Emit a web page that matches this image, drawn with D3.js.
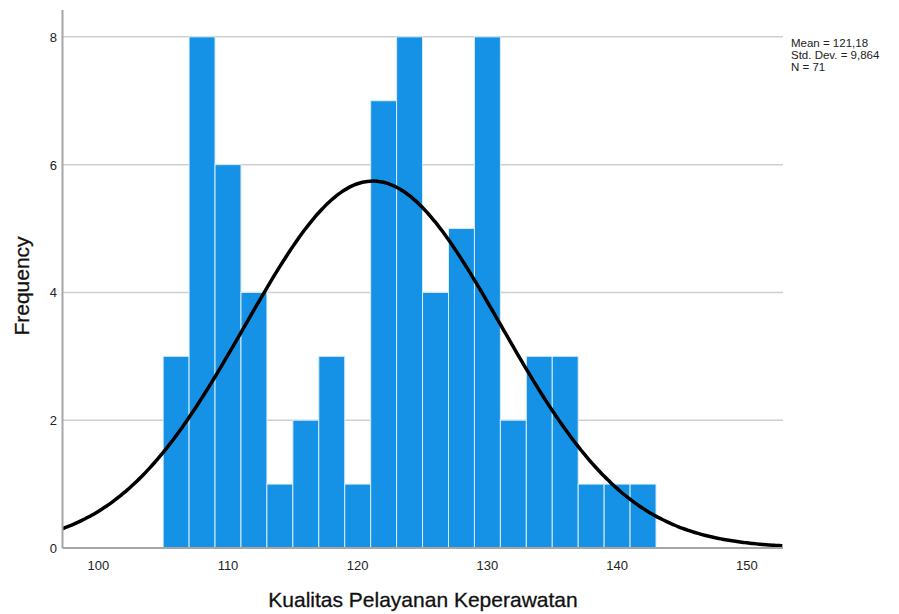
<!DOCTYPE html>
<html>
<head>
<meta charset="utf-8">
<script src="https://cdn.jsdelivr.net/npm/d3@7"></script>
<style>
  body { margin: 0; background: #fff; }
  text { font-family: Arial, "Liberation Sans", sans-serif; }
</style>
</head>
<body>
<div id="chart"></div>
<script>
var width = 899,
    height = 614;

// histogram bins (lower edge, width 2) and counts
const binStart = 105;
const binWidth = 2;
const counts = [3, 8, 6, 4, 1, 2, 3, 1, 7, 8, 4, 5, 8, 2, 3, 3, 1, 1, 1];
const xTicks = [100, 110, 120, 130, 140, 150];
const yTicks = [0, 2, 4, 6, 8];
const stats = { mean: 121.18, sd: 9.864, n: 71 };
const statLabels = ["Mean = 121,18", "Std. Dev. = 9,864", "N = 71"];

var bins = counts.map((c, i) => ({ x0: binStart + i * binWidth, x1: binStart + (i + 1) * binWidth, count: c }));

// plot area edges
var pLeft = 62.5, pRight = 783, pTop = 10, pBottom = 548;

var xScale = d3.scaleLinear().domain([97.24, 152.79]).range([pLeft, pRight]),
    yScale = d3.scaleLinear().domain([0, 8.42]).range([pBottom, pTop]);

var svg = d3.select("#chart")
    .append("svg")
    .attr("width", width)
    .attr("height", height);

// gridlines
svg.append("g")
    .selectAll("line")
    .data(yTicks.filter(d => d > 0))
    .enter().append("line")
    .attr("x1", pLeft).attr("x2", pRight)
    .attr("y1", d => yScale(d)).attr("y2", d => yScale(d))
    .attr("stroke", "#cfcfcf")
    .attr("stroke-width", 1.5);

// bars
svg.append("g")
    .selectAll("rect")
    .data(bins)
    .enter().append("rect")
    .attr("x", d => xScale(d.x0))
    .attr("y", d => yScale(d.count))
    .attr("width", d => xScale(d.x1) - xScale(d.x0))
    .attr("height", d => yScale(0) - yScale(d.count))
    .attr("fill", "#1591e6")
    .attr("stroke", "#d8ecfa")
    .attr("stroke-width", 1);

// normal curve from mean / sd, scaled to counts
var curveX = d3.range(xScale.domain()[0], xScale.domain()[1] + 0.01, 0.25);
var scaleK = stats.n * binWidth / (stats.sd * Math.sqrt(2 * Math.PI));
var line = d3.line()
    .x(d => xScale(d))
    .y(d => yScale(scaleK * Math.exp(-0.5 * Math.pow((d - stats.mean) / stats.sd, 2))))
    .curve(d3.curveBasis);

svg.append("path")
    .attr("d", line(curveX))
    .attr("fill", "none")
    .attr("stroke", "#000")
    .attr("stroke-width", 3.5);

// axes lines
svg.append("line")
    .attr("x1", pLeft).attr("x2", pLeft)
    .attr("y1", pTop).attr("y2", pBottom)
    .attr("stroke", "#a6a6a6").attr("stroke-width", 2);
svg.append("line")
    .attr("x1", pLeft).attr("x2", pRight)
    .attr("y1", pBottom).attr("y2", pBottom)
    .attr("stroke", "#a6a6a6").attr("stroke-width", 2);

// y tick labels
svg.append("g")
    .selectAll("text")
    .data(yTicks)
    .enter().append("text")
    .attr("x", 57)
    .attr("y", d => yScale(d) + 5)
    .attr("text-anchor", "end")
    .attr("font-size", "13px")
    .attr("fill", "#222")
    .text(d => d);

// x tick labels
svg.append("g")
    .selectAll("text")
    .data(xTicks)
    .enter().append("text")
    .attr("x", d => xScale(d))
    .attr("y", 570)
    .attr("text-anchor", "middle")
    .attr("font-size", "13px")
    .attr("fill", "#222")
    .text(d => d);

// axis titles
svg.append("text")
    .attr("x", 423)
    .attr("y", 607)
    .attr("text-anchor", "middle")
    .attr("font-size", "21px")
    .attr("fill", "#111")
    .attr("stroke", "#111")
    .attr("stroke-width", 0.3)
    .text("Kualitas Pelayanan Keperawatan");

svg.append("text")
    .attr("transform", "translate(29,286) rotate(-90)")
    .attr("text-anchor", "middle")
    .attr("font-size", "21px")
    .attr("fill", "#111")
    .attr("stroke", "#111")
    .attr("stroke-width", 0.3)
    .text("Frequency");

// stats box
svg.append("g")
    .selectAll("text")
    .data(statLabels)
    .enter().append("text")
    .attr("x", 791)
    .attr("y", (d, i) => 47 + i * 12)
    .attr("font-size", "11.5px")
    .attr("fill", "#222")
    .text(d => d);
</script>
</body>
</html>
